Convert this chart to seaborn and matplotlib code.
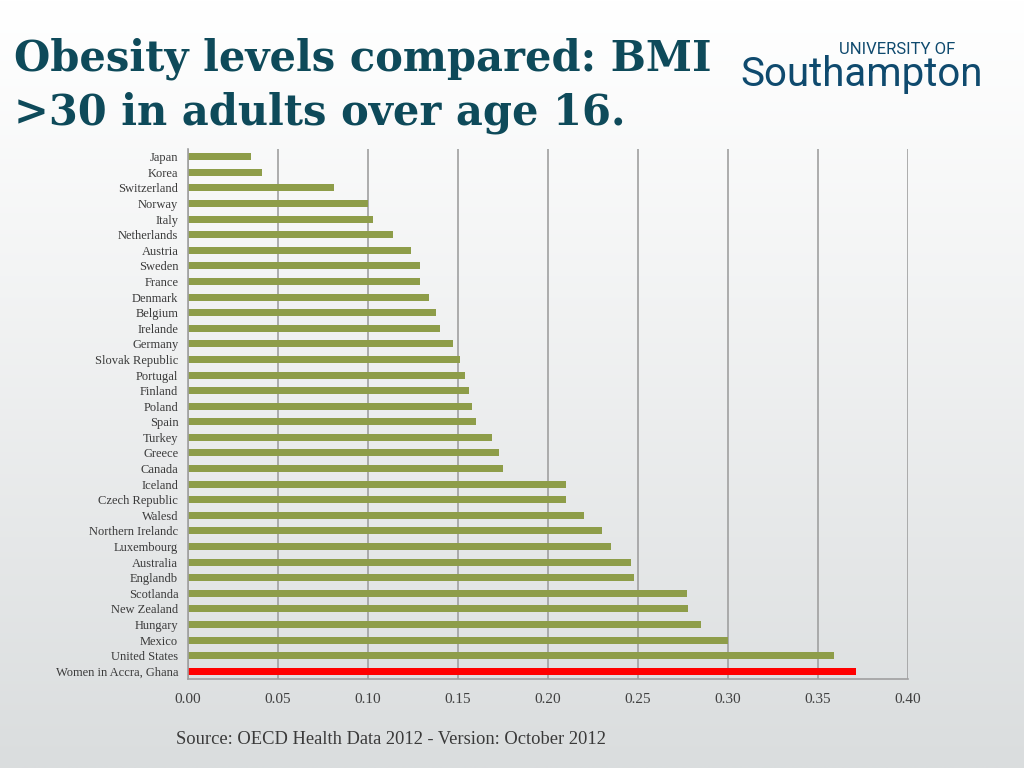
import numpy as np
import pandas as pd
import matplotlib
matplotlib.use("Agg")
import matplotlib.pyplot as plt
import seaborn as sns

countries = ["Japan", "Korea", "Switzerland", "Norway", "Italy", "Netherlands", "Austria",
             "Sweden", "France", "Denmark", "Belgium", "Irelande", "Germany", "Slovak Republic",
             "Portugal", "Finland", "Poland", "Spain", "Turkey", "Greece", "Canada", "Iceland",
             "Czech Republic", "Walesd", "Northern Irelandc", "Luxembourg", "Australia",
             "Englandb", "Scotlanda", "New Zealand", "Hungary", "Mexico", "United States",
             "Women in Accra, Ghana"]
values = [0.035, 0.041, 0.081, 0.100, 0.103, 0.114, 0.124, 0.129, 0.129, 0.134, 0.138,
          0.140, 0.147, 0.151, 0.154, 0.156, 0.158, 0.160, 0.169, 0.173, 0.175, 0.210,
          0.210, 0.220, 0.230, 0.235, 0.246, 0.248, 0.277, 0.278, 0.285, 0.300, 0.359, 0.371]
groups = ["OECD"] * 33 + ["Ghana"]
x_ticks = [0.00, 0.05, 0.10, 0.15, 0.20, 0.25, 0.30, 0.35, 0.40]

df = pd.DataFrame({"country": countries, "value": values, "group": groups})

sns.set_theme(style="white")
plt.rcParams['font.family'] = ['Liberation Serif', 'DejaVu Serif']

fig = plt.figure(figsize=(10.24, 7.68), dpi=100)

# background gradient
bg = fig.add_axes([0, 0, 1, 1], zorder=-10)
grad = np.linspace(0, 1, 256).reshape(-1, 1)
top = np.array([1.0, 1.0, 1.0])
bot = np.array([0xda, 0xdd, 0xde]) / 255
img = top + (bot - top) * grad[..., None] ** 1.1
img = np.repeat(img, 2, axis=1)
bg.imshow(img, aspect="auto", extent=[0, 1, 0, 1], origin="upper")
bg.axis("off")

ax = fig.add_axes([188 / 1024, 1 - 679 / 768, 720 / 1024, 530 / 768])
ax.set_facecolor("none")
sns.barplot(data=df, y="country", x="value", hue="group", orient="h",
            palette={"OECD": "#8e9d49", "Ghana": "#ff0000"}, width=0.45,
            dodge=False, legend=False, ax=ax, saturation=1,
            edgecolor="none", linewidth=0)

ax.set_xlim(0, 0.40)
ax.set_ylim(len(countries) - 0.5, -0.5)
ax.set_xticks(x_ticks)
ax.set_xticklabels([f"{t:.2f}" for t in x_ticks], fontsize=11, color="#404040")
ax.set_xlabel("")
ax.set_ylabel("")
ax.tick_params(axis="y", labelsize=9, labelcolor="#3a3a3a", length=0, pad=7)
ax.set_yticks(np.arange(-0.5, len(countries) + 0.5, 1), minor=True)
ax.tick_params(axis="y", which="minor", length=5, color="#a0a0a0", width=1, direction="out")
ax.tick_params(axis="x", length=5, color="#a0a0a0", width=1, direction="out", pad=5)
ax.xaxis.grid(True, color="#a0a0a0", linewidth=1.2)
ax.set_axisbelow(True)
for s in ["top", "right"]:
    ax.spines[s].set_visible(False)
for s in ["left", "bottom"]:
    ax.spines[s].set_color("#a0a0a0")
    ax.spines[s].set_linewidth(1.2)

title_font = ['DejaVu Serif']
fig.text(14 / 1024, 1 - 70 / 768, "Obesity levels compared: BMI", fontsize=30,
         fontweight="bold", color="#0e4a5a", va="baseline", ha="left", family=title_font)
fig.text(14 / 1024, 1 - 124 / 768, ">30 in adults over age 16.", fontsize=30,
         fontweight="bold", color="#0e4a5a", va="baseline", ha="left", family=title_font)

logo_font = ['Roboto', 'DejaVu Sans']
fig.text(955 / 1024, 1 - 54 / 768, "UNIVERSITY OF", fontsize=12, color="#0f4a6e",
         family=logo_font, ha="right", va="baseline")
fig.text(740 / 1024, 1 - 86 / 768, "Southampton", fontsize=29, color="#0f4a6e",
         family=logo_font, ha="left", va="baseline")

fig.text(176 / 1024, 1 - 740 / 768, "Source: OECD Health Data 2012 - Version: October 2012",
         fontsize=13.3, color="#3a3a3a", ha="left", va="center")

fig.savefig("out.png", dpi=100)
